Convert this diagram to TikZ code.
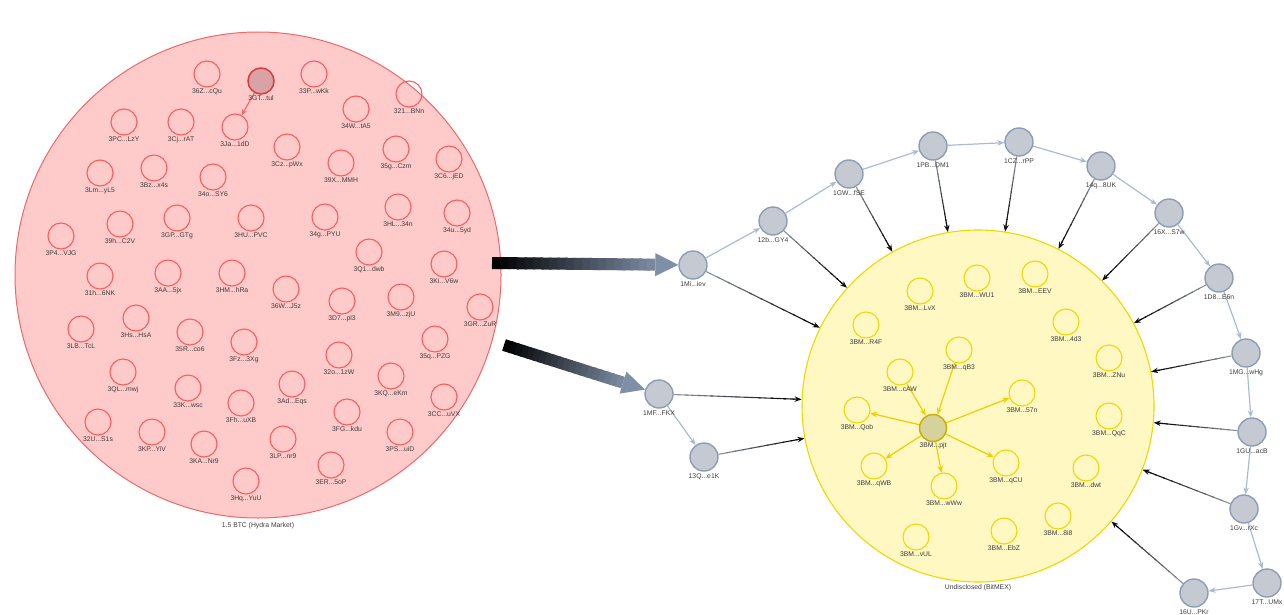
\documentclass[tikz,border=0pt]{standalone}
\usepackage{fontspec}
\setmainfont{Liberation Sans}
\usetikzlibrary{calc,arrows.meta}
\definecolor{pinkfill}{HTML}{FFCACA}
\definecolor{pinkline}{HTML}{F06868}
\definecolor{rnodeline}{HTML}{FF5C5C}
\definecolor{gtfill}{HTML}{D9A3A5}
\definecolor{gtline}{HTML}{D93A3A}
\definecolor{yelfill}{HTML}{FFF8C2}
\definecolor{yelline}{HTML}{F2D600}
\definecolor{ynodeline}{HTML}{F5D500}
\definecolor{yarrow}{HTML}{F0CC00}
\definecolor{pjtfill}{HTML}{D5D29C}
\definecolor{pjtline}{HTML}{C9AE0A}
\definecolor{gfill}{HTML}{C4C9D2}
\definecolor{gline}{HTML}{8E9DB5}
\definecolor{chain}{HTML}{A9BBD3}
\definecolor{edgestart}{HTML}{B4BECC}
\definecolor{slate}{HTML}{7F8FA7}
\definecolor{lbltext}{HTML}{3C3C3C}
\pgfdeclarelayer{circ}
\pgfdeclarelayer{edges}
\pgfsetlayers{circ,edges,main}
\newcommand\tdot{...}
\tikzset{
  lbl/.style={font=\fontsize{6.8}{7}\selectfont, text=lbltext, inner sep=0.6pt},
  rnode/.style={circle, draw=rnodeline, line width=1.1pt, minimum size=26pt, inner sep=0pt, label={[lbl]below:#1}},
  gtnode/.style={circle, draw=gtline, fill=gtfill, line width=1.5pt, minimum size=26pt, inner sep=0pt, label={[lbl]below:#1}},
  ynode/.style={circle, draw=ynodeline, line width=1.1pt, minimum size=26pt, inner sep=0pt, label={[lbl]below:#1}},
  pjtnode/.style={circle, draw=pjtline, fill=pjtfill, line width=1.5pt, minimum size=27pt, inner sep=0pt, label={[lbl]below:#1}},
  gnode/.style={circle, draw=gline, fill=gfill, line width=1.4pt, minimum size=28pt, inner sep=0pt, label={[lbl,label distance=1pt]below:#1}},
  chainedge/.style={draw=chain, line width=1.2pt, -{Stealth[length=7pt,width=5.5pt]}},
  yedge/.style={draw=yarrow, line width=1.2pt, -{Stealth[length=7pt,width=5.5pt]}},
  redge/.style={draw=pinkline, line width=1.1pt, -{Stealth[length=6pt,width=5pt]}},
}
\newcommand\gradedge[2]{%
  \path (#1) -- (#2) coordinate[pos=0] (gs) coordinate[pos=1] (ge);
  \coordinate (gx) at ($(ge)!6pt!(gs)$);
  \foreach \k in {0,1,2,3,4,5,6,7,8,9} {
    \pgfmathsetmacro\pa{\k/10}
    \pgfmathsetmacro\pb{min((\k+1.2)/10,1)}
    \pgfmathtruncatemacro\cc{25+\k*8}
    \draw[line width=1.1pt, color=black!\cc!edgestart] ($(gs)!\pa!(gx)$) -- ($(gs)!\pb!(gx)$);
  }
  \draw[line width=1.1pt, black!95, -{Stealth[length=7pt,width=5.5pt]}] ($(ge)!9pt!(gs)$) -- (ge);
}
\newcommand\fatarrow[2]{%
  \path (#1) -- (#2) coordinate[pos=1] (fe);
  \coordinate (fb) at ($(fe)!23pt!(#1)$);
  \foreach \k in {0,1,2,3,4,5,6,7,8,9,10,11,12,13,14,15,16,17,18,19} {
    \pgfmathsetmacro\pa{\k/20}
    \pgfmathsetmacro\pb{min((\k+1.3)/20,1)}
    \pgfmathtruncatemacro\cc{100-\k*5}
    \draw[line width=12pt, color=black!\cc!slate] ($(#1)!\pa!(fb)$) -- ($(#1)!\pb!(fb)$);
  }
  \fill[slate] (fe) -- ($(fb)!11.5pt!90:(fe)$) -- ($(fb)!11.5pt!-90:(fe)$) -- cycle;
}
\begin{document}
\begin{tikzpicture}[x=1pt,y=-1pt]
\useasboundingbox (0,0) rectangle (1284,615);

\begin{pgfonlayer}{circ}
\node[circle, draw=pinkline, fill=pinkfill, line width=1pt, minimum size=486pt, inner sep=0pt,
      label={[lbl,label distance=3pt]below:1.5 BTC (Hydra Market)}] (L) at (258,275) {};
\node[circle, draw=yelline, fill=yelfill, line width=1.1pt, minimum size=352pt, inner sep=0pt,
      label={[lbl,label distance=1pt]below:Undisclosed (BitMEX)}] (R) at (978,406) {};
\end{pgfonlayer}

% left cluster
\foreach \x/\y/\n/\t in {
207/74/n36Z/36Z\tdot cQu, 314/74/n33P/33P\tdot wKk, 356/109/n34W/34W\tdot tA5, 409/94/n321/321\tdot BNn,
124/122/n3PC/3PC\tdot LzY, 181/122/n3Cj/3Cj\tdot rAT, 235/127/n3Ja/3Ja\tdot 1dD, 287/147/n3Cz/3Cz\tdot pWx,
396/149/n35g/35g\tdot Czm, 449/159/n3C6/3C6\tdot jED, 100/173/n3Lm/3Lm\tdot yL5, 154/168/n3Bz/3Bz\tdot x4s,
213/177/n34o/34o\tdot SY6, 341/163/n39X/39X\tdot MMH, 61/236/n3P4/3P4\tdot VJG, 120/224/n39h/39h\tdot C2V,
177/218/n3GP/3GP\tdot GTg, 251/218/n3HU/3HU\tdot PVC, 325/217/n34g/34g\tdot PYU, 398/207/n3HL/3HL\tdot 34n,
457/213/n34u/34u\tdot 5yd, 100/276/n31h/31h\tdot 6NK, 168/273/n3AA/3AA\tdot 5jx, 232/273/n3HM/3HM\tdot hRa,
286/289/n36W/36W\tdot J5z, 369/252/n3Q1/3Q1\tdot dwb, 444/264/n3Ki/3Ki\tdot V6w, 342/301/n3D7/3D7\tdot pl3,
401/297/n3M9/3M9\tdot zjU, 480/307/n3GR/3GR\tdot ZuR, 81/329/n3LB/3LB\tdot TcL, 136/318/n3Hs/3Hs\tdot HsA,
190/332/n35R/35R\tdot co6, 244/342/n3Fz/3Fz\tdot 3Xg, 339/355/n32o/32o\tdot 1zW, 435/339/n35q/35q\tdot PZG,
123/372/n3QL/3QL\tdot mwj, 188/388/n33K/33K\tdot wsc, 292/384/n3Ad/3Ad\tdot Eqs, 391/376/n3KQ/3KQ\tdot eKm,
444/397/n3CC/3CC\tdot uVX, 98/422/n32U/32U\tdot S1s, 152/432/n3KP/3KP\tdot YiV, 204/444/n3KA/3KA\tdot Nr9,
241/403/n3Fh/3Fh\tdot uXB, 283/439/n3LP/3LP\tdot nr9, 347/412/n3FG/3FG\tdot kdu, 400/432/n3PS/3PS\tdot uiD,
331/465/n3ER/3ER\tdot 5oP, 246/481/n3Hq/3Hq\tdot YuU}
  {\node[rnode=\t] (\n) at (\x,\y) {};}
\node[gtnode=3GT\tdot tul] (n3GT) at (261,81) {};

% right cluster
\foreach \x/\y/\n/\t in {
920/291/yLvX/3BM\tdot LvX, 977/278/yWU1/3BM\tdot WU1, 1035/274/yEEV/3BM\tdot EEV, 866/325/yR4F/3BM\tdot R4F,
1066/322/y4d3/3BM\tdot 4d3, 959/350/yqB3/3BM\tdot qB3, 900/372/ycAW/3BM\tdot cAW, 1109/358/yZNu/3BM\tdot ZNu,
1022/393/y57n/3BM\tdot 57n, 857/410/yQob/3BM\tdot Qob, 1109/416/yQqC/3BM\tdot QqC, 874/466/yqWB/3BM\tdot qWB,
944/486/ywWw/3BM\tdot wWw, 1006/463/yqCU/3BM\tdot qCU, 1086/468/ydwt/3BM\tdot dwt, 1058/516/y8i8/3BM\tdot 8i8,
1004/531/yEbZ/3BM\tdot EbZ, 916/537/yvUL/3BM\tdot vUL}
  {\node[ynode=\t] (\n) at (\x,\y) {};}
\node[pjtnode=3BM\tdot pjt] (ypjt) at (933,428) {};

% chain nodes
\foreach \x/\y/\n/\t in {
693/265/g1Mi/1Mi\tdot iev, 773/221/g12b/12b\tdot GY4, 849/174/g1GW/1GW\tdot fSE, 933/146/g1PB/1PB\tdot DM1,
1019/142/g1CZ/1CZ\tdot rPP, 1101/166/g14q/14q\tdot 8UK, 1169/213/g16X/16X\tdot S7w, 1219/278/g1D8/1D8\tdot E6n,
1246/353/g1MG/1MG\tdot wHg, 1252/432/g1GU/1GU\tdot acB, 1244/509/g1Gv/1Gv\tdot rXc, 1267/583/g17T/17T\tdot UMx,
1194/593/g16U/16U\tdot PKr, 659/394/g1MF/1MF\tdot FKX, 704/457/g13Q/13Q\tdot e1K}
  {\node[gnode=\t] (\n) at (\x,\y) {};}

\begin{pgfonlayer}{edges}
\draw[redge] (n3GT) -- (n3Ja);
\draw[yedge] (ycAW) -- (ypjt);
\draw[yedge] (yqB3) -- (ypjt);
\draw[yedge] (ypjt) -- (yQob);
\draw[yedge] (ypjt) -- (y57n);
\draw[yedge] (ypjt) -- (yqWB);
\draw[yedge] (ypjt) -- (ywWw);
\draw[yedge] (ypjt) -- (yqCU);

\draw[chainedge] (g1Mi) -- (g12b);
\draw[chainedge] (g12b) -- (g1GW);
\draw[chainedge] (g1GW) -- (g1PB);
\draw[chainedge] (g1PB) -- (g1CZ);
\draw[chainedge] (g1CZ) -- (g14q);
\draw[chainedge] (g14q) -- (g16X);
\draw[chainedge] (g16X) -- (g1D8);
\draw[chainedge] (g1D8) -- (g1MG);
\draw[chainedge] (g1MG) -- (g1GU);
\draw[chainedge] (g1GU) -- (g1Gv);
\draw[chainedge] (g1Gv) -- (g17T);
\draw[chainedge] (g17T) -- (g16U);
\draw[chainedge] (g1MF) -- (g13Q);

\foreach \n in {g1Mi,g12b,g1GW,g1PB,g1CZ,g14q,g16X,g1D8,g1MG,g1GU,g1Gv,g16U,g1MF,g13Q}
  {\gradedge{\n}{R}}

\coordinate (f1s) at (492,263);
\coordinate (f2s) at (504,345);
\fatarrow{f1s}{g1Mi}
\fatarrow{f2s}{g1MF}
\end{pgfonlayer}
\end{tikzpicture}
\end{document}
